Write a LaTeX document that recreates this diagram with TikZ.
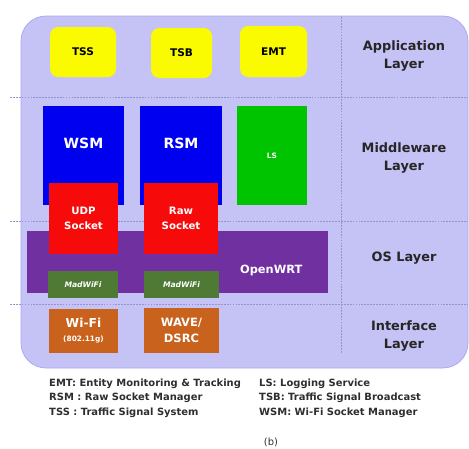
\documentclass[tikz,border=0pt]{standalone}
\usepackage{fontspec}
\setmainfont{DejaVu Sans}
\definecolor{framefill}{HTML}{C5C2F6}
\definecolor{framedraw}{HTML}{A9A5F0}
\definecolor{sepline}{HTML}{9296D0}
\definecolor{appyellow}{HTML}{FAFA00}
\definecolor{wsmblue}{HTML}{0000F0}
\definecolor{lsgreen}{HTML}{00C400}
\definecolor{sockred}{HTML}{F70A0A}
\definecolor{osviolet}{HTML}{7030A0}
\definecolor{madgreen}{HTML}{4F7A35}
\definecolor{ifcorange}{HTML}{C8621D}
\begin{document}
\begin{tikzpicture}[x=0.03cm, y=-0.03cm,
  blk/.style 2 args={minimum width=#1*0.03cm, minimum height=#2*0.03cm,
    inner sep=0pt, text=white, align=center},
  layer/.style={font=\fontsize{11}{16}\selectfont\bfseries, align=center, text=black!85},
  legend/.style={font=\fontsize{8.5}{12.3}\selectfont\bfseries, align=left, text=black!82, inner sep=0pt}]
  \useasboundingbox (0,0) rectangle (469,449);
  % Frame
  \draw[framedraw, fill=framefill, line width=0.6pt, rounded corners=0.75cm] (21,16) rectangle (468,368);
  % Layer separators
  \foreach \y in {97,221,304}
    \draw[sepline, dash pattern=on 1.5pt off 1pt, line width=0.35pt] (10,\y) -- (467,\y);
  \draw[sepline, dash pattern=on 1.5pt off 1pt, line width=0.35pt] (341,17) -- (341,353);
  % Layer names
  \node[layer] (app) at (404,56) {Application\\Layer};
  \node[layer] (mid) at (404,158) {Middleware\\Layer};
  \node[layer] (os) at (404,258) {OS Layer};
  \node[layer] (ifc) at (404,336) {Interface\\Layer};
  % Application layer
  \node[blk={66}{50}, fill=appyellow, text=black, rounded corners=0.25cm,
    font=\fontsize{9}{11}\selectfont\bfseries] (tss) at (83,52) {TSS};
  \node[blk={61}{50}, fill=appyellow, text=black, rounded corners=0.25cm,
    font=\fontsize{9}{11}\selectfont\bfseries] (tsb) at (181.5,53) {TSB};
  \node[blk={67}{51}, fill=appyellow, text=black, rounded corners=0.25cm,
    font=\fontsize{9}{11}\selectfont\bfseries] (emt) at (273.5,51.5) {EMT};
  % Middleware layer
  \node[blk={81}{99}, fill=wsmblue,
    label={[yshift=10.5pt, text=white, font=\fontsize{12}{14}\selectfont\bfseries]center:WSM}] (wsm) at (83.5,155.5) {};
  \node[blk={82}{99}, fill=wsmblue,
    label={[yshift=10.5pt, text=white, font=\fontsize{12}{14}\selectfont\bfseries]center:RSM}] (rsm) at (181,155.5) {};
  \node[blk={70}{99}, fill=lsgreen, font=\fontsize{6.3}{8}\selectfont\bfseries] (ls) at (272,155.5) {LS};
  % OS layer
  \node[blk={301}{62}, fill=osviolet,
    label={[xshift=80pt, yshift=-6.8pt, text=white, font=\fontsize{9.7}{12}\selectfont\bfseries]center:OpenWRT}] (owrt) at (177.5,262) {};
  \node[blk={69}{71}, fill=sockred, font=\fontsize{8.7}{12.8}\selectfont\bfseries] (udp) at (83.5,218.5) {UDP\\Socket};
  \node[blk={74}{71}, fill=sockred, font=\fontsize{8.7}{12.8}\selectfont\bfseries] (raw) at (181,218.5) {Raw\\Socket};
  \node[blk={70}{27}, fill=madgreen, font=\fontsize{6.5}{7}\selectfont\bfseries\itshape] (mad1) at (83,284.5) {MadWiFi};
  \node[blk={75}{27}, fill=madgreen, font=\fontsize{6.5}{7}\selectfont\bfseries\itshape] (mad2) at (181.5,284.5) {MadWiFi};
  % Interface layer
  \node[blk={69}{44}, fill=ifcorange, font=\fontsize{10.5}{13}\selectfont\bfseries] (wifi) at (83.5,331)
    {Wi-Fi\\[-1pt]{\fontsize{6.3}{8}\selectfont(802.11g)}};
  \node[blk={75}{45}, fill=ifcorange, font=\fontsize{9.8}{13.6}\selectfont\bfseries] (wave) at (181.5,330.5) {WAVE/\\DSRC};
  % Legend
  \node[legend, anchor=north west] (keyl) at (49,378.5) {EMT: Entity Monitoring \& Tracking\\RSM : Raw Socket Manager\\TSS : Traffic Signal System};
  \node[legend, anchor=north west] (keyr) at (259,378.5) {LS: Logging Service\\TSB: Traffic Signal Broadcast\\WSM: Wi-Fi Socket Manager};
  \node[font=\fontsize{8.5}{11}\selectfont, text=black!80] (cap) at (271,442) {(b)};
\end{tikzpicture}
\end{document}
